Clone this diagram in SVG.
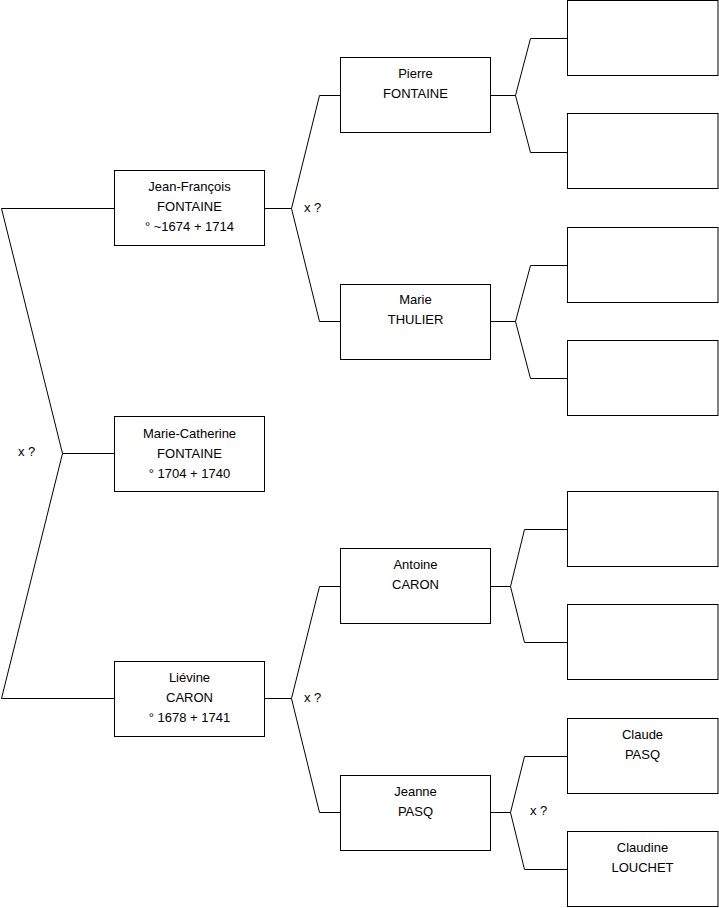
<svg xmlns="http://www.w3.org/2000/svg" width="719" height="908" viewBox="0 0 719 908">
<style>
.box{fill:#fff;stroke:#000;stroke-width:1}
.ln{fill:none;stroke:#000;stroke-width:1}
text{font-family:"Liberation Sans",Arial,sans-serif;font-size:13px;fill:#000}
.c{text-anchor:middle}
</style>
<rect width="719" height="908" fill="#fff"/>
<g id="connectors">
<polyline class="ln" points="114,208.5 1.5,208.5 62.5,453.5 1.5,698.5 114,698.5"/>
<line class="ln" x1="62.5" y1="453.5" x2="114" y2="453.5"/>
<polyline class="ln" points="265,208.5 291.5,208.5"/>
<polyline class="ln" points="340,95.5 319.5,95.5 291.5,208.5 319.5,321.5 340,321.5"/>
<polyline class="ln" points="265,698.5 291.5,698.5"/>
<polyline class="ln" points="340,586.5 319.5,586.5 291.5,698.5 319.5,812.5 340,812.5"/>
<polyline class="ln" points="491,95.5 515.5,95.5"/>
<polyline class="ln" points="567,38.5 530.5,38.5 515.5,95.5 530.5,152.5 567,152.5"/>
<polyline class="ln" points="491,321.5 515.5,321.5"/>
<polyline class="ln" points="567,265.5 530.5,265.5 515.5,321.5 530.5,378.5 567,378.5"/>
<polyline class="ln" points="491,586.5 510.5,586.5"/>
<polyline class="ln" points="567,529.5 524.5,529.5 510.5,586.5 524.5,642.5 567,642.5"/>
<polyline class="ln" points="491,812.5 510.5,812.5"/>
<polyline class="ln" points="567,756.5 524.5,756.5 510.5,812.5 524.5,869.5 567,869.5"/>
<text x="18" y="456">x ?</text>
<text x="304" y="212">x ?</text>
<text x="304" y="702">x ?</text>
<text x="530" y="815">x ?</text>
</g>
<g id="jean-francois">
<rect class="box" x="114.5" y="170.5" width="150" height="75"/>
<text class="c" x="189.5" y="191">Jean-François</text>
<text class="c" x="189.5" y="211">FONTAINE</text>
<text class="c" x="189.5" y="231">° ~1674 + 1714</text>
</g>
<g id="marie-catherine">
<rect class="box" x="114.5" y="416.5" width="150" height="75"/>
<text class="c" x="189.5" y="438">Marie-Catherine</text>
<text class="c" x="189.5" y="458">FONTAINE</text>
<text class="c" x="189.5" y="478">° 1704 + 1740</text>
</g>
<g id="lievine">
<rect class="box" x="114.5" y="661.5" width="150" height="75"/>
<text class="c" x="189.5" y="682">Liévine</text>
<text class="c" x="189.5" y="702">CARON</text>
<text class="c" x="189.5" y="722">° 1678 + 1741</text>
</g>
<g id="pierre">
<rect class="box" x="340.5" y="57.5" width="150" height="75"/>
<text class="c" x="415.5" y="78">Pierre</text>
<text class="c" x="415.5" y="98">FONTAINE</text>
</g>
<g id="marie">
<rect class="box" x="340.5" y="284.5" width="150" height="75"/>
<text class="c" x="415.5" y="304">Marie</text>
<text class="c" x="415.5" y="324">THULIER</text>
</g>
<g id="antoine">
<rect class="box" x="340.5" y="548.5" width="150" height="75"/>
<text class="c" x="415.5" y="569">Antoine</text>
<text class="c" x="415.5" y="589">CARON</text>
</g>
<g id="jeanne">
<rect class="box" x="340.5" y="775.5" width="150" height="75"/>
<text class="c" x="415.5" y="796">Jeanne</text>
<text class="c" x="415.5" y="816">PASQ</text>
</g>
<g id="gp1"><rect class="box" x="567.5" y="0.5" width="150.5" height="75"/></g>
<g id="gp2"><rect class="box" x="567.5" y="113.5" width="150.5" height="75"/></g>
<g id="gp3"><rect class="box" x="567.5" y="227.5" width="150.5" height="75"/></g>
<g id="gp4"><rect class="box" x="567.5" y="340.5" width="150.5" height="75"/></g>
<g id="gp5"><rect class="box" x="567.5" y="491.5" width="150.5" height="75"/></g>
<g id="gp6"><rect class="box" x="567.5" y="604.5" width="150.5" height="75"/></g>
<g id="claude">
<rect class="box" x="567.5" y="718.5" width="150.5" height="75"/>
<text class="c" x="642.5" y="739">Claude</text>
<text class="c" x="642.5" y="759">PASQ</text>
</g>
<g id="claudine">
<rect class="box" x="567.5" y="831.5" width="150.5" height="75"/>
<text class="c" x="642.5" y="852">Claudine</text>
<text class="c" x="642.5" y="872">LOUCHET</text>
</g>
</svg>
